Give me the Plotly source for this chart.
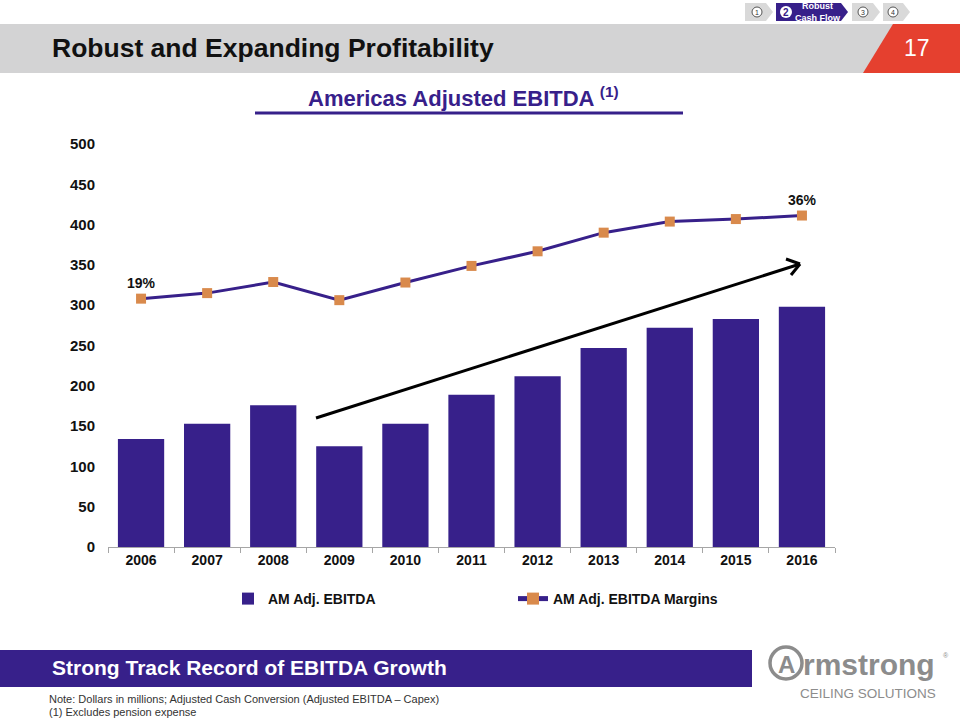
import plotly.graph_objects as go

years = ["2006", "2007", "2008", "2009", "2010", "2011", "2012", "2013", "2014", "2015", "2016"]
ebitda = [134, 153, 176, 125, 153, 189, 212, 247, 272, 283, 298]
margins = [0.193, 0.204, 0.226, 0.190, 0.225, 0.258, 0.287, 0.324, 0.346, 0.351, 0.358]
margin_labels = ["19%", "", "", "", "", "", "", "", "", "", "36%"]

PURPLE = "#37208A"
ORANGE = "#D98A4C"
FONT = "Liberation Sans, Arial, sans-serif"

# plot area in pixels
L, R, T, B = 108, 835, 144, 547
W, H = R - L, B - T


def X(px):
    return (px - L) / W


def Y(py):
    return (B - py) / H


def note(x, y, text, size, color, xanchor="center", family=FONT):
    return dict(xref="paper", yref="paper", x=X(x), y=Y(y), xanchor=xanchor, yanchor="middle",
                text=text, showarrow=False, font=dict(family=family, size=size, color=color))


fig = go.Figure()
fig.add_trace(go.Bar(
    x=years, y=ebitda, name="AM Adj. EBITDA",
    marker=dict(color=PURPLE, line=dict(width=0)),
))
fig.add_trace(go.Scatter(
    x=years, y=margins, name="AM Adj. EBITDA Margins", yaxis="y2",
    mode="lines+markers+text", text=margin_labels, textposition="top center",
    textfont=dict(family=FONT, size=14, color="#111111", weight="bold"),
    line=dict(color=PURPLE, width=3),
    marker=dict(symbol="square", size=10, color=ORANGE),
))

shapes = []
annotations = []

# header band
shapes.append(dict(type="rect", xref="paper", yref="paper", x0=X(0), x1=X(960), y0=Y(73), y1=Y(24),
                   fillcolor="#D3D3D4", line=dict(width=0), layer="below"))
shapes.append(dict(type="path", xref="paper", yref="paper",
                   path=f"M {X(863)},{Y(73)} L {X(893)},{Y(24)} L {X(960)},{Y(24)} L {X(960)},{Y(73)} Z",
                   fillcolor="#E5402F", line=dict(width=0)))
annotations.append(note(50, 48, "<b>Robust and Expanding Profitability</b>", 26.5, "#111111", xanchor="left"))
annotations.append(note(917, 48, "17", 23, "white"))

# navigation chevrons
navs = [(745, 773, "#D9D9D9"), (776, 848, PURPLE), (852, 880, "#D9D9D9"), (883, 910, "#D9D9D9")]
for x0, x1, col in navs:
    shapes.append(dict(type="path", xref="paper", yref="paper",
                       path=f"M {X(x0)},{Y(3)} L {X(x1-7)},{Y(3)} L {X(x1)},{Y(12)} L {X(x1-7)},{Y(21)} L {X(x0)},{Y(21)} Z",
                       fillcolor=col, line=dict(width=0)))
for cx, t in [(757, "1"), (863, "3"), (893, "4")]:
    shapes.append(dict(type="circle", xref="paper", yref="paper", x0=X(cx-5), x1=X(cx+5), y0=Y(17), y1=Y(7),
                       line=dict(color="#555555", width=1), fillcolor="white"))
    annotations.append(note(cx, 12, t, 7, "#333333"))
shapes.append(dict(type="circle", xref="paper", yref="paper", x0=X(780), x1=X(792), y0=Y(18), y1=Y(6),
                   line=dict(width=0), fillcolor="white"))
annotations.append(note(786, 12.5, "<b>2</b>", 10, PURPLE))
annotations.append(note(818, 12, "<b>Robust<br>Cash Flow</b>", 9, "white"))

# subtitle
annotations.append(note(463, 97, "<b>Americas Adjusted EBITDA <sup>(1)</sup></b>", 22, PURPLE))
shapes.append(dict(type="line", xref="paper", yref="paper", x0=X(255), x1=X(683), y0=Y(113), y1=Y(113),
                   line=dict(color=PURPLE, width=3)))

# trend arrow
tail, tip = (316, 418), (800, 264)
shapes.append(dict(type="line", xref="paper", yref="paper", x0=X(tail[0]), y0=Y(tail[1]), x1=X(tip[0]), y1=Y(tip[1]),
                   line=dict(color="black", width=3)))
shapes.append(dict(type="line", xref="paper", yref="paper", x0=X(786), y0=Y(259), x1=X(tip[0]), y1=Y(tip[1]),
                   line=dict(color="black", width=3)))
shapes.append(dict(type="line", xref="paper", yref="paper", x0=X(791), y0=Y(275), x1=X(tip[0]), y1=Y(tip[1]),
                   line=dict(color="black", width=3)))

# bottom band
shapes.append(dict(type="rect", xref="paper", yref="paper", x0=X(0), x1=X(752), y0=Y(687), y1=Y(650),
                   fillcolor=PURPLE, line=dict(width=0)))
annotations.append(note(50, 667, "<b>Strong Track Record of EBITDA Growth</b>", 21, "white", xanchor="left"))

# logo
LOGO = "#8C8C8C"
shapes.append(dict(type="circle", xref="paper", yref="paper", x0=X(770), x1=X(802), y0=Y(679), y1=Y(647),
                   line=dict(color=LOGO, width=3.5)))
annotations.append(note(786, 664, "<b>A</b>", 24, LOGO))
annotations.append(note(801, 664, "<b>rmstrong</b>", 30, LOGO, xanchor="left"))
annotations.append(note(941, 655, "®", 7, LOGO, xanchor="left"))
annotations.append(note(868, 693, "CEILING SOLUTIONS", 13.5, LOGO))

# notes
annotations.append(note(47, 699, "Note: Dollars in millions; Adjusted Cash Conversion (Adjusted EBITDA – Capex)",
                        11, "#333333", xanchor="left"))
annotations.append(note(47, 712, "(1) Excludes pension expense", 11, "#333333", xanchor="left"))

fig.update_layout(
    width=960, height=720,
    margin=dict(l=L, r=960 - R, t=T, b=720 - B, autoexpand=False),
    paper_bgcolor="white", plot_bgcolor="white",
    bargap=0.3,
    showlegend=True,
    legend=dict(orientation="h", x=X(228), y=Y(599), xanchor="left", yanchor="middle",
                entrywidth=240, entrywidthmode="pixels",
                font=dict(family=FONT, size=14, color="#111111", weight="bold"),
                bgcolor="rgba(0,0,0,0)", itemsizing="constant"),
    xaxis=dict(type="category", range=[-0.5, 10.5], automargin=False, showgrid=False, showline=True,
               linecolor="#A6A6A6", linewidth=1,
               ticks="outside", tickson="boundaries", ticklen=5, tickcolor="#A6A6A6",
               tickfont=dict(family=FONT, size=14, color="#111111", weight="bold")),
    yaxis=dict(range=[0, 500], dtick=50, automargin=False, showgrid=False, showline=False, zeroline=False,
               tickfont=dict(family=FONT, size=15, color="#111111", weight="bold"), ticks="",
               ticklabelstandoff=12),
    yaxis2=dict(range=[-0.30, 0.50], overlaying="y", side="right", visible=False, automargin=False),
    shapes=shapes,
    annotations=annotations,
)

fig.write_html("out.html")
